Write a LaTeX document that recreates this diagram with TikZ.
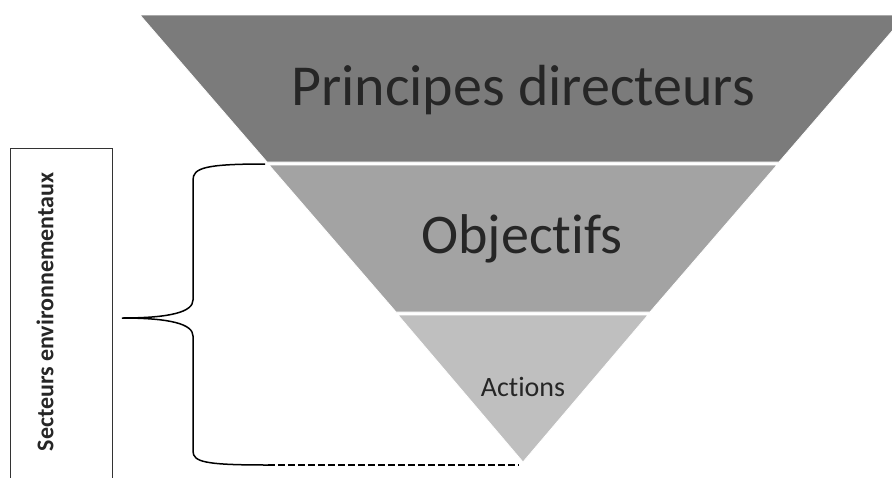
\documentclass[tikz,border=0pt]{standalone}
\usepackage{fontspec}
\setmainfont[Ligatures=NoCommon]{Carlito}
\usetikzlibrary{positioning}

\definecolor{layerA}{HTML}{7B7B7B}
\definecolor{layerB}{HTML}{A3A3A3}
\definecolor{layerC}{HTML}{BFBFBF}

\tikzset{
  layer/.style={draw=white, line width=0.8pt},
  label/.style={inner sep=0pt, text=black!85},
  brace/.style={draw=black, line width=1.5pt},
}

\begin{document}
\begin{tikzpicture}[x=1pt, y=-1pt]
\useasboundingbox (0,0) rectangle (892,477);
\clip (0,0) rectangle (892,477);

% the three levels of the funnel, apex at (523,462)
\filldraw[layer, fill=layerA] (140,15) -- (906,15) -- (779,162) -- (267,162) -- cycle;
\filldraw[layer, fill=layerB] (269,165) -- (777,165) -- (650,312) -- (396,312) -- cycle;
\filldraw[layer, fill=layerC] (398,315) -- (648,315) -- (523,462) -- cycle;

\node[label, font=\fontsize{58}{60}\selectfont] (principes) at (523,90) {Principes directeurs};
\node[label, font=\fontsize{56}{58}\selectfont] (objectifs) at (522,239) {Objectifs};
\node[label, font=\fontsize{28}{30}\selectfont] (actions) at (523,387) {Actions};

% side box with the vertical caption
\draw[black!80, line width=0.8pt] (112,490) -- (112,148) -- (10,148) -- (10,490);
\node[label, rotate=90, font=\bfseries\fontsize{24}{26}\selectfont] (secteurs) at (45,312) {Secteurs environnementaux};

% brace from the top of Objectifs down to the apex
\coordinate (top) at (265,164);
\coordinate (tip) at (122,318);
\coordinate (bot) at (268,465);
\coordinate (dash end) at (519,465);
\draw[brace] (top) .. controls (205,164) and (193,168) .. (193,180)
  -- (193,300) .. controls (193,312) and (170,318) .. (tip)
  .. controls (170,318) and (193,324) .. (193,336)
  -- (193,451) .. controls (193,462) and (205,465) .. (bot);
\draw[black, line width=1.5pt, dash pattern=on 7pt off 3pt] (bot) -- (dash end);
\end{tikzpicture}
\end{document}
